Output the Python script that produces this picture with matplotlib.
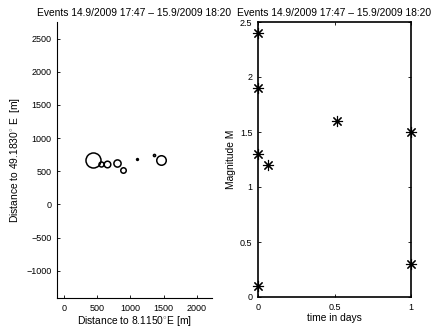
import matplotlib
matplotlib.use("Agg")
import matplotlib.pyplot as plt
import numpy as np

plt.rcParams['font.family'] = ['Liberation Sans', 'DejaVu Sans']
plt.rcParams['mathtext.fontset'] = 'custom'
plt.rcParams['mathtext.rm'] = 'Liberation Sans'

title_text = "Events 14.9/2009 17:47 \u2013 15.9/2009 18:20"

# Map data: event locations (m) and magnitudes
map_east = [440, 560, 650, 800, 895, 1105, 1350, 1455]
map_north = [667, 606, 606, 621, 515, 682, 742, 667]
map_mag = [2.4, 1.2, 1.5, 1.6, 1.3, 0.1, 0.3, 1.9]

# Time series: days since first event and magnitude
time_days = [0.0, 0.0, 0.0, 0.0, 0.065, 0.515, 1.0, 1.0]
magnitude = [2.4, 1.9, 1.3, 0.1, 1.2, 1.6, 1.5, 0.3]

x_ticks_map = [0, 500, 1000, 1500, 2000]
y_ticks_map = [-1000, -500, 0, 500, 1000, 1500, 2000, 2500]
x_ticks_t = [0, 0.5, 1]
y_ticks_m = [0, 0.5, 1, 1.5, 2, 2.5]

W, H = 434, 330
fig = plt.figure(figsize=(W / 100, H / 100), dpi=100)

fs = 6.5
fl = 7.4

def frac(x0, y0, x1, y1):
    return [x0 / W, 1 - y1 / H, (x1 - x0) / W, (y1 - y0) / H]

ax1 = fig.add_axes(frac(57, 22, 212, 298))
for e, n, m in zip(map_east, map_north, map_mag):
    ax1.plot(e, n, 'o', mfc='none', mec='black', mew=1.1, ms=1.2 * 2.5 ** m)
ax1.set_xlim(-105, 2226)
ax1.set_ylim(-1409, 2750)
ax1.spines['top'].set_visible(False)
ax1.spines['right'].set_visible(False)
ax1.set_xticks(x_ticks_map)
ax1.set_yticks(y_ticks_map)
ax1.set_yticklabels([str(v).replace('-', '\u2212') for v in y_ticks_map])
ax1.tick_params(direction='in', length=2.2, width=0.6, labelsize=fs, pad=4)
for s in ax1.spines.values():
    s.set_linewidth(0.8)
ax1.set_xlabel("Distance to 8.1150$^{\\circ}$E [m]", fontsize=fl, labelpad=1)
ax1.set_ylabel("Distance to 49.1830$^{\\circ}$ E  [m]", fontsize=fl, labelpad=3)
ax1.set_title(title_text, fontsize=fl, pad=4)

ax2 = fig.add_axes(frac(258, 22, 411, 297))
ax2.plot(time_days, magnitude, linestyle='none', marker=(8, 2, 0), ms=8,
         mec='black', mew=0.8, color='black')
ax2.set_xlim(0, 1)
ax2.set_ylim(0, 2.5)
ax2.set_xticks(x_ticks_t)
ax2.set_xticklabels(['0', '0.5', '1'])
ax2.set_yticks(y_ticks_m)
ax2.set_yticklabels(['0', '0.5', '1', '1.5', '2', '2.5'])
ax2.tick_params(direction='in', length=2.2, width=0.6, labelsize=fs, pad=4,
                top=True, right=True)
for s in ax2.spines.values():
    s.set_linewidth(1.2)
ax2.set_xlabel("time in days", fontsize=fl, labelpad=1)
ax2.set_ylabel("Magnitude M", fontsize=fl, labelpad=3)
ax2.set_title(title_text, fontsize=fl, pad=4)
for a in (ax1, ax2):
    for line in a.lines:
        line.set_clip_on(False)

fig.savefig("out.png", dpi=100)
